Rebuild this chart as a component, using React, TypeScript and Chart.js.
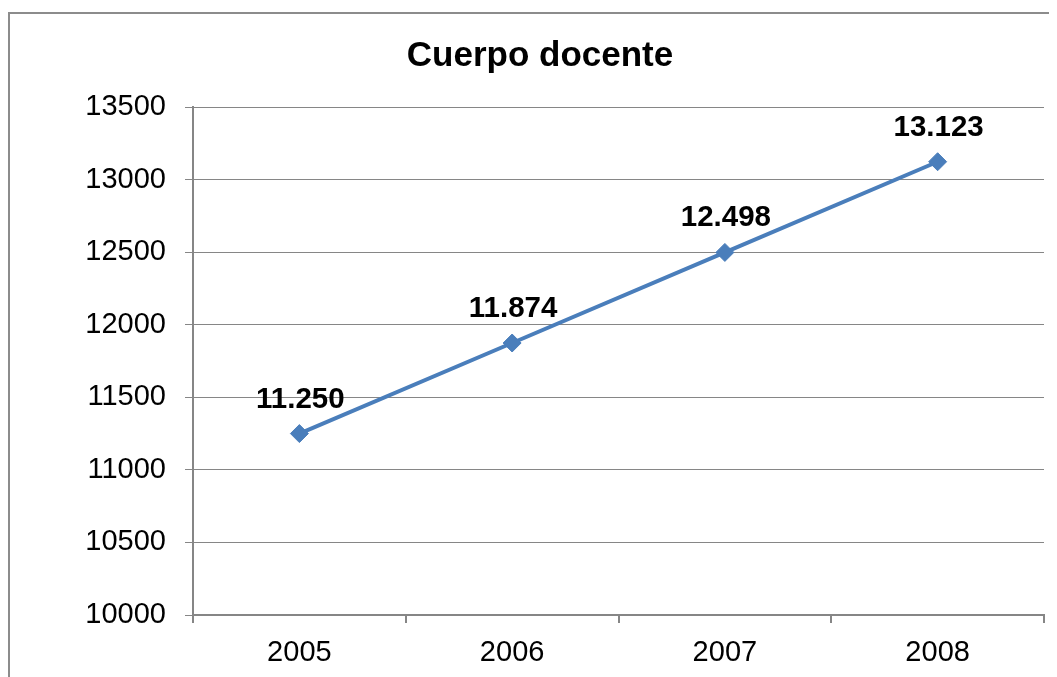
import { useEffect, useRef } from "react";
import { Chart, registerables } from "chart.js";

Chart.register(...registerables);

const titleText = "Cuerpo docente";
const categories = ["2005", "2006", "2007", "2008"];
const values = [11250, 11874, 12498, 13123];
const yMin = 10000;
const yMax = 13500;
const yStep = 500;

const FONT = '"Liberation Sans", Arial, Helvetica, sans-serif';

function fmtEs(v: number): string {
  return String(v).replace(/\B(?=(\d{3})+(?!\d))/g, ".");
}

const pointLabels = {
  id: "pointLabels",
  afterDatasetsDraw(chart: any) {
    const meta = chart.getDatasetMeta(0);
    const ctx = chart.ctx;
    ctx.save();
    ctx.font = `bold 29.5px ${FONT}`;
    ctx.fillStyle = "#000";
    ctx.textAlign = "center";
    ctx.textBaseline = "alphabetic";
    meta.data.forEach((pt: any, i: number) => {
      ctx.fillText(fmtEs(values[i]), pt.x + 1, pt.y - 26);
    });
    ctx.restore();
  },
};

const centeredTitle = {
  id: "centeredTitle",
  afterDraw(chart: any) {
    const ctx = chart.ctx;
    ctx.save();
    ctx.font = `bold 35px ${FONT}`;
    ctx.fillStyle = "#000";
    ctx.textAlign = "center";
    ctx.textBaseline = "alphabetic";
    ctx.fillText(titleText, chart.width / 2, 52);
    ctx.restore();
  },
};

export default function App() {
  const ref = useRef<HTMLCanvasElement | null>(null);

  useEffect(() => {
    document.documentElement.style.overflow = "hidden";
    document.body.style.overflow = "hidden";
    if (!ref.current) return;
    const chart = new Chart(ref.current, {
      type: "line",
      data: {
        labels: categories,
        datasets: [
          {
            data: values,
            borderColor: "#4A7EBB",
            backgroundColor: "#4A7EBB",
            borderWidth: 4,
            pointStyle: "rectRot",
            pointRadius: 9,
            pointBorderWidth: 1,
            pointBackgroundColor: "#4A7EBB",
            pointBorderColor: "#4A7EBB",
            tension: 0,
          },
        ],
      },
      options: {
        animation: false,
        responsive: true,
        maintainAspectRatio: false,
        layout: { padding: { left: 0, right: 26, top: 93, bottom: 0 } },
        plugins: {
          legend: { display: false },
          tooltip: { enabled: false },
          title: { display: false },
        },
        scales: {
          x: {
            offset: true,
            grid: {
              offset: true,
              drawOnChartArea: false,
              color: "#868686",
              tickLength: 8,
              lineWidth: 2,
            },
            border: { color: "#868686", width: 2 },
            ticks: {
              color: "#000",
              font: { family: FONT, size: 29 },
              padding: 13,
            },
            afterFit(scale: any) {
              scale.height = 79;
            },
          },
          y: {
            min: yMin,
            max: yMax,
            grid: { color: "#868686", tickLength: 8, lineWidth: 1 },
            border: { color: "#868686", width: 2 },
            ticks: {
              stepSize: yStep,
              color: "#000",
              font: { family: FONT, size: 29 },
              padding: 19,
              callback: (v: any) => String(v),
            },
            afterFit(scale: any) {
              scale.width = 183;
            },
          },
        },
      },
      plugins: [pointLabels, centeredTitle],
    });
    return () => chart.destroy();
  }, []);

  return (
    <div
      style={{
        marginTop: 4,
        width: 1060,
        height: 690,
        border: "2px solid #8c8c8c",
        background: "#fff",
      }}
    >
      <div style={{ position: "relative", width: 1060, height: 680 }}>
        <canvas ref={ref} />
      </div>
    </div>
  );
}
